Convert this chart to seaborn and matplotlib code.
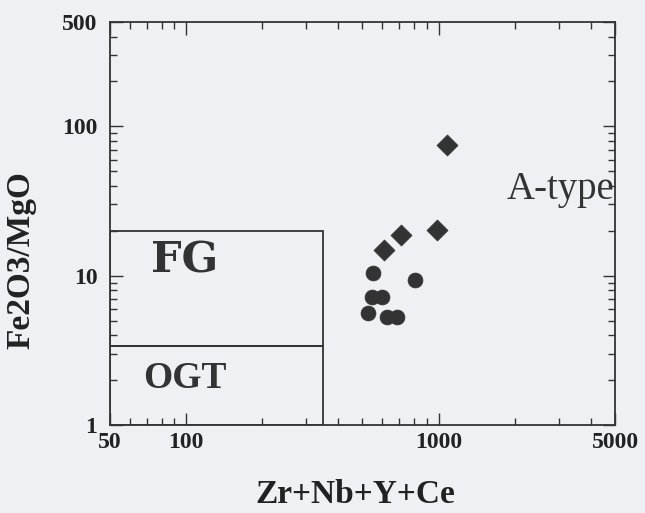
import matplotlib
matplotlib.use("Agg")
import matplotlib.pyplot as plt
import matplotlib.ticker as mticker
from matplotlib.patches import Rectangle
import seaborn as sns
import pandas as pd

# Data
x_diamond = [1077, 988, 710, 610]
y_diamond = [75, 20.2, 18.7, 14.9]
x_circle = [552, 807, 544, 596, 527, 623, 683]
y_circle = [10.4, 9.36, 7.2, 7.2, 5.6, 5.26, 5.26]

x_ticks = [50, 100, 1000, 5000]
y_ticks = [1, 10, 100, 500]
fg_box = (50, 350, 3.4, 20)    # x0, x1, y0, y1
ogt_box = (50, 350, 1, 3.4)

df_d = pd.DataFrame({"x": x_diamond, "y": y_diamond})
df_c = pd.DataFrame({"x": x_circle, "y": y_circle})

sns.set_style("ticks")
plt.rcParams["font.family"] = ["Liberation Serif", "DejaVu Serif"]
plt.rcParams["font.weight"] = "bold"

bg = "#eef0f3"
ink = "#333333"
fig = plt.figure(figsize=(6.45, 5.13), dpi=100, facecolor=bg)
ax = fig.add_axes([0.1705, 0.1715, 0.7830, 0.7855])
ax.set_facecolor(bg)

sns.scatterplot(data=df_d, x="x", y="y", marker="D", s=115, color=ink,
                edgecolor=ink, linewidth=0.5, legend=False, ax=ax, zorder=3)
sns.scatterplot(data=df_c, x="x", y="y", marker="o", s=115, color=ink,
                edgecolor=ink, linewidth=0.5, legend=False, ax=ax, zorder=3)

ax.set_xscale("log")
ax.set_yscale("log")
ax.set_xlim(50, 5000)
ax.set_ylim(1, 500)

for (x0, x1, y0, y1) in [fg_box, ogt_box]:
    ax.add_patch(Rectangle((x0, y0), x1 - x0, y1 - y0, fill=False,
                           edgecolor=ink, linewidth=1.3, zorder=1))

ax.xaxis.set_major_locator(mticker.FixedLocator(x_ticks))
ax.yaxis.set_major_locator(mticker.FixedLocator(y_ticks))
ax.xaxis.set_major_formatter(mticker.FixedFormatter([str(v) for v in x_ticks]))
ax.yaxis.set_major_formatter(mticker.FixedFormatter([str(v) for v in y_ticks]))
ax.xaxis.set_minor_locator(mticker.LogLocator(base=10, subs=range(2, 10)))
ax.yaxis.set_minor_locator(mticker.LogLocator(base=10, subs=range(2, 10)))
ax.xaxis.set_minor_formatter(mticker.NullFormatter())
ax.yaxis.set_minor_formatter(mticker.NullFormatter())

ax.tick_params(which="both", direction="in", top=True, right=True,
               color=ink, width=1.0)
ax.tick_params(which="major", length=9, labelsize=17, pad=5, labelcolor="#222222")
ax.tick_params(axis="y", which="major", pad=9)
ax.tick_params(which="minor", length=5)
for lab in ax.get_xticklabels() + ax.get_yticklabels():
    lab.set_fontweight("bold")

for sp in ax.spines.values():
    sp.set_color(ink)
    sp.set_linewidth(1.3)

ax.set_xlabel("Zr+Nb+Y+Ce", fontsize=24, fontweight="bold", color="#222222")
ax.set_ylabel("Fe2O3/MgO", fontsize=24, fontweight="bold", color="#222222")
ax.xaxis.set_label_coords(0.485, -0.135)
ax.yaxis.set_label_coords(-0.145, 0.41)

ax.text(99, 12.6, "FG", fontsize=31, fontweight="bold", ha="center", va="center",
        color=ink, family=["DejaVu Serif"])
ax.text(99, 2.05, "OGT", fontsize=27, fontweight="bold", ha="center", va="center",
        color=ink, family=["Liberation Serif"])
ax.text(4960, 38, "A-type", fontsize=28, fontweight="normal", ha="right", va="center",
        color=ink, family=["Liberation Serif"])

fig.savefig("out.png", dpi=100, facecolor=bg)
